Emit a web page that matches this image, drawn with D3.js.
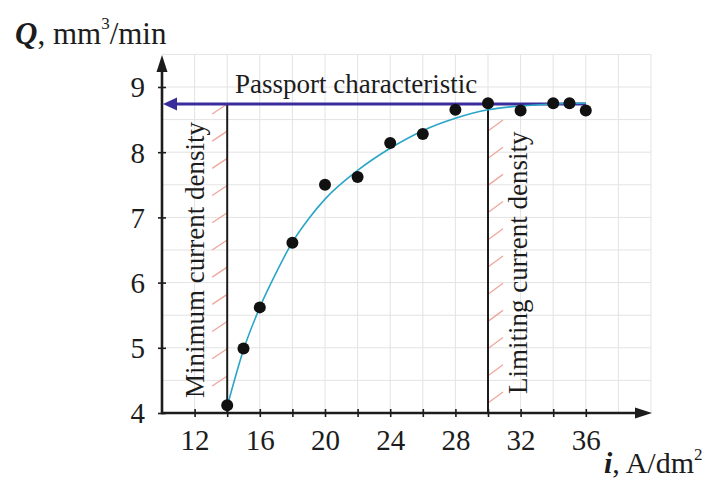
<!DOCTYPE html>
<html>
<head>
<meta charset="utf-8">
<script src="https://cdn.jsdelivr.net/npm/d3@7"></script>
<style>
	html, body { margin: 0; padding: 0; background: #fff; }
	svg { display: block; font-family: 'Liberation Serif', 'Times New Roman', serif; }
</style>
</head>
<body>
<svg id="chart" width="706" height="480"></svg>
<script>
// measured points, i (A/dm2) vs Q (mm3/min)
const current = [14, 15, 16, 18, 20, 22, 24, 26, 28, 30, 32, 34, 35, 36]
const flow = [4.12, 4.99, 5.62, 6.61, 7.5, 7.62, 8.14, 8.28, 8.65, 8.75, 8.64, 8.75, 8.75, 8.64]

// fitted curve
const fitCurrent = [14, 15, 16, 17, 18, 19, 20, 22, 24, 26, 28, 30, 32, 34, 36]
const fitFlow = [4.1, 4.97, 5.62, 6.15, 6.62, 6.98, 7.28, 7.72, 8.06, 8.33, 8.52, 8.65, 8.71, 8.74, 8.75]

const passportQ = 8.74
const passportEnd = 36
const minCurrent = 14
const limitCurrent = 30

const xTicks = [12, 16, 20, 24, 28, 32, 36]
const xMinorTicks = [14, 18, 22, 26, 30, 34]
const yTicks = [4, 5, 6, 7, 8, 9]

const svg = d3.select('#chart')
const x = d3.scaleLinear().domain([10, 40]).range([162, 651])
const y = d3.scaleLinear().domain([4, 9.5]).range([413, 54.4])

const ink = '#1c1c1c'
const serif = 'Liberation Serif, serif'

// grid
const grid = svg.append('g').attr('class', 'grid').attr('stroke', '#e3e3e3').attr('stroke-width', 1)
grid.selectAll('line.v')
	.data(d3.range(12, 40.1, 2))
	.enter()
	.append('line')
	.attr('x1', d => x(d))
	.attr('x2', d => x(d))
	.attr('y1', y(4))
	.attr('y2', y(9.5))
grid.selectAll('line.h')
	.data(d3.range(4.5, 9.51, 0.5))
	.enter()
	.append('line')
	.attr('x1', x(10))
	.attr('x2', x(40))
	.attr('y1', d => y(d))
	.attr('y2', d => y(d))

// hatching on the outer side of both limits
const hatchColor = '#eea79c'
const hatchStep = 27.2
const hatch = svg.append('g').attr('stroke', hatchColor).attr('stroke-width', 1.3)
hatch.selectAll('line.left')
	.data(d3.range(11))
	.enter()
	.append('line')
	.attr('x1', x(minCurrent) - 15)
	.attr('y1', k => y(passportQ) + k * hatchStep + 10)
	.attr('x2', x(minCurrent))
	.attr('y2', k => y(passportQ) + k * hatchStep)
hatch.selectAll('line.right')
	.data(d3.range(11))
	.enter()
	.append('line')
	.attr('x1', x(limitCurrent))
	.attr('y1', k => y(passportQ) + 27 + k * hatchStep)
	.attr('x2', x(limitCurrent) + 15)
	.attr('y2', k => y(passportQ) + 16 + k * hatchStep)

// limit lines
svg.selectAll('line.limit')
	.data([minCurrent, limitCurrent])
	.enter()
	.append('line')
	.attr('x1', d => x(d))
	.attr('x2', d => x(d))
	.attr('y1', y(4))
	.attr('y2', y(passportQ))
	.attr('stroke', ink)
	.attr('stroke-width', 2)

// axes
const xAxis = svg.append('g')
	.attr('transform', `translate(0,${y(4)})`)
	.call(d3.axisBottom(x).tickValues(xTicks.concat(xMinorTicks)).tickSize(0).tickFormat(d => (xTicks.includes(d) ? d : '')))
xAxis.select('.domain').remove()
xAxis.selectAll('.tick line').attr('y1', -4).attr('y2', 4).attr('stroke', ink).attr('stroke-width', 1.6)
xAxis.selectAll('.tick text')
	.attr('font-size', 29)
	.attr('font-family', serif)
	.attr('fill', ink)
	.attr('dy', 0)
	.attr('y', 37)

const yAxis = svg.append('g')
	.attr('transform', `translate(${x(10)},0)`)
	.call(d3.axisLeft(y).tickValues(yTicks).tickSize(0).tickPadding(17).tickFormat(d3.format('d')))
yAxis.select('.domain').remove()
yAxis.selectAll('.tick line').attr('x1', -4).attr('x2', 4).attr('stroke', ink).attr('stroke-width', 1.6)
yAxis.selectAll('.tick text')
	.attr('font-size', 29)
	.attr('font-family', serif)
	.attr('fill', ink)
	.attr('dy', '0.34em')

svg.append('line')
	.attr('x1', x(10))
	.attr('x2', x(40) - 10)
	.attr('y1', y(4))
	.attr('y2', y(4))
	.attr('stroke', ink)
	.attr('stroke-width', 2.6)
svg.append('line')
	.attr('x1', x(10))
	.attr('x2', x(10))
	.attr('y1', y(4) + 1.3)
	.attr('y2', 66)
	.attr('stroke', ink)
	.attr('stroke-width', 2.6)
svg.append('path')
	.attr('d', `M${x(40) + 1},${y(4)} L${x(40) - 16},${y(4) - 5.5} L${x(40) - 16},${y(4) + 5.5} Z`)
	.attr('fill', ink)
svg.append('path')
	.attr('d', `M${x(10)},55 L${x(10) - 5.5},72 L${x(10) + 5.5},72 Z`)
	.attr('fill', ink)

// passport characteristic
const passColor = '#3b2c9b'
svg.append('line')
	.attr('x1', x(10) + 10)
	.attr('x2', x(passportEnd))
	.attr('y1', y(passportQ))
	.attr('y2', y(passportQ))
	.attr('stroke', passColor)
	.attr('stroke-width', 3)
svg.append('path')
	.attr('d', `M${x(10) + 1},${y(passportQ)} L${x(10) + 15},${y(passportQ) - 6.5} L${x(10) + 15},${y(passportQ) + 6.5} Z`)
	.attr('fill', passColor)

// fitted curve
const line = d3
	.line()
	.x(d => x(d[0]))
	.y(d => y(d[1]))
	.curve(d3.curveMonotoneX)
svg.append('path')
	.attr('d', line(fitCurrent.map((c, i) => [c, fitFlow[i]])))
	.attr('fill', 'none')
	.attr('stroke', '#2aa5c6')
	.attr('stroke-width', 1.6)

// points
svg.selectAll('circle.pt')
	.data(current.map((c, i) => [c, flow[i]]))
	.enter()
	.append('circle')
	.attr('cx', d => x(d[0]))
	.attr('cy', d => y(d[1]))
	.attr('r', 6)
	.attr('fill', '#111')

// labels
const label = (tx, ty, text, rot) =>
	svg.append('text')
		.attr('transform', `translate(${tx},${ty})` + (rot ? ' rotate(-90)' : ''))
		.attr('font-size', 27)
		.attr('fill', ink)
		.text(text)
label(235, 93, 'Passport characteristic')
label(204, 398, 'Minimum current density', true)
label(527, 394, 'Limiting current density', true)

const yTitle = svg.append('text').attr('x', 15).attr('y', 44).attr('font-size', 31).attr('fill', ink)
yTitle.append('tspan').attr('font-weight', 'bold').attr('font-style', 'italic').text('Q')
yTitle.append('tspan').text(', mm')
yTitle.append('tspan').attr('font-size', 17).attr('dy', -15).text('3')
yTitle.append('tspan').attr('dy', 15).text('/min')

const xTitle = svg.append('text').attr('x', 604).attr('y', 473).attr('font-size', 30).attr('fill', ink)
xTitle.append('tspan').attr('font-weight', 'bold').attr('font-style', 'italic').text('i')
xTitle.append('tspan').text(', A/dm')
xTitle.append('tspan').attr('font-size', 17).attr('dy', -13).text('2')
</script>
</body>
</html>
